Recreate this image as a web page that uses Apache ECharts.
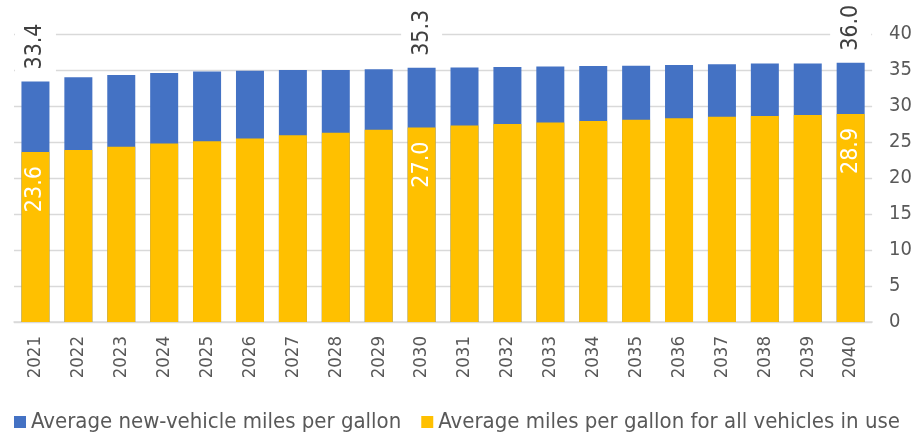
<!DOCTYPE html>
<html>
<head>
<meta charset="utf-8">
<script src="https://cdn.jsdelivr.net/npm/echarts@6/dist/echarts.min.js"></script>
<style>
  html, body { margin: 0; padding: 0; background: #fff; }
  #chart { width: 915px; height: 434px; }
</style>
</head>
<body>
<div id="chart"></div>
<script>
// 年份
const years = ['2021', '2022', '2023', '2024', '2025', '2026', '2027', '2028', '2029', '2030',
  '2031', '2032', '2033', '2034', '2035', '2036', '2037', '2038', '2039', '2040']
// 新车平均油耗 (mpg)
const newVehicleMpg = [33.4, 34.0, 34.3, 34.6, 34.8, 34.9, 35.0, 35.0, 35.1, 35.3,
  35.35, 35.4, 35.5, 35.55, 35.6, 35.7, 35.8, 35.9, 35.9, 36.0]
// 所有在用车辆平均油耗 (mpg)
const allVehicleMpg = [23.6, 23.9, 24.35, 24.8, 25.1, 25.5, 25.95, 26.3, 26.7, 27.0,
  27.3, 27.5, 27.7, 27.9, 28.1, 28.3, 28.5, 28.6, 28.75, 28.9]
// 只给这几个年份加数值标签
const labelledIdx = [0, 9, 19]
const seriesNames = ['Average new-vehicle miles per gallon', 'Average miles per gallon for all vehicles in use']

const FONT = "'DejaVu Sans Condensed', 'DejaVu Sans', sans-serif"

const withLabels = (values) => values.map((v, i) =>
  labelledIdx.includes(i) ? { value: v, label: { show: true } } : v)

const chart = echarts.init(document.getElementById('chart'))
const option = {
  backgroundColor: '#fff',
  animation: false,
  color: ['#4472C4', '#FFC000'],
  grid: { left: 14, right: 42, top: 34, bottom: 112 },
  legend: {
    data: seriesNames,
    left: 9,
    top: 406,
    width: 906,
    icon: 'rect',
    itemWidth: 12,
    itemHeight: 12,
    itemGap: 20,
    textStyle: { fontFamily: FONT, fontSize: 22, color: '#595959' }
  },
  xAxis: {
    type: 'category',
    data: years,
    axisTick: { show: false },
    axisLine: { lineStyle: { color: '#D9D9D9', width: 1.5 } },
    axisLabel: { rotate: 90, fontFamily: FONT, fontSize: 18.5, color: '#595959', margin: 14, interval: 0 }
  },
  yAxis: {
    type: 'value',
    position: 'right',
    min: 0,
    max: 40,
    interval: 5,
    axisLine: { show: false },
    axisTick: { show: false },
    splitLine: { lineStyle: { color: '#D9D9D9', width: 1.3 } },
    axisLabel: { fontFamily: FONT, fontSize: 20, color: '#595959', margin: 17, align: 'left' }
  },
  series: [
    {
      name: seriesNames[0],
      type: 'bar',
      barWidth: 28,
      data: withLabels(newVehicleMpg),
      label: {
        show: false,
        position: 'top',
        distance: 6,
        rotate: 90,
        align: 'left',
        verticalAlign: 'middle',
        fontFamily: FONT,
        fontSize: 23,
        color: '#404040',
        backgroundColor: '#fff',
        padding: [9, 6, 9, 6],
        formatter: p => p.value.toFixed(1)
      }
    },
    {
      name: seriesNames[1],
      type: 'bar',
      barWidth: 28,
      barGap: '-100%',
      data: withLabels(allVehicleMpg),
      label: {
        show: false,
        position: 'insideTop',
        distance: 14,
        rotate: 90,
        align: 'right',
        verticalAlign: 'middle',
        fontFamily: FONT,
        fontSize: 23,
        color: '#fff',
        formatter: p => p.value.toFixed(1)
      }
    }
  ]
}
chart.setOption(option)
</script>
</body>
</html>
